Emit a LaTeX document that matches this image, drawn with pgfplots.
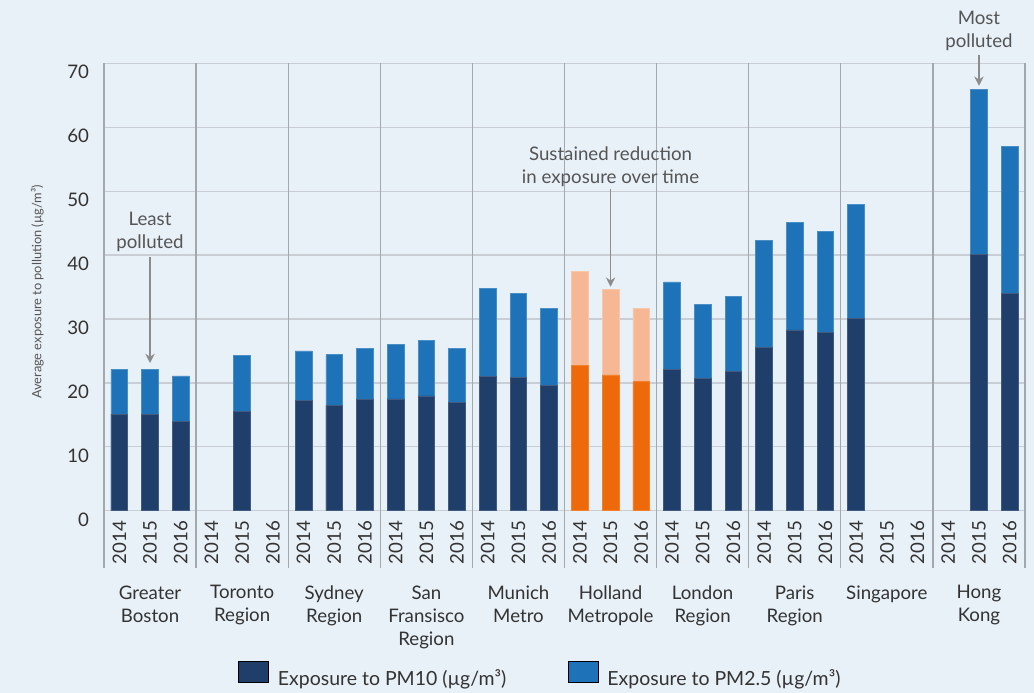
\documentclass[border=0pt]{standalone}
\usepackage{pgfplots}
\pgfplotsset{compat=1.18}
\usepackage{pgfplotstable}
\usepackage{fontspec}
\setmainfont{Lato}
\usetikzlibrary{arrows.meta}
\definecolor{bg}{HTML}{E8F0F8}
\definecolor{navy}{HTML}{1F3F6A}
\definecolor{mid}{HTML}{1D72B8}
\definecolor{org}{HTML}{EE690A}
\definecolor{lorg}{HTML}{F6B894}
\definecolor{gridc}{HTML}{C8CED4}
\definecolor{sepc}{HTML}{A3A8AD}
\definecolor{txt}{HTML}{333333}
\definecolor{ann}{HTML}{555555}
\definecolor{arr}{HTML}{8C8C8C}

\pgfplotstableread{
x pm10 pm25
0 15.1 7.0
1 15.1 7.0
2 14.0 7.1
4 15.6 8.7
6 17.2 7.8
7 16.5 7.9
8 17.4 7.95
9 17.5 8.5
10 17.95 8.65
11 17.0 8.35
12 21.0 13.85
13 20.9 13.1
14 19.6 12.0
18 22.1 13.7
19 20.7 11.55
20 21.85 11.65
21 25.6 16.65
22 28.3 16.8
23 27.95 15.8
24 30.05 17.95
28 40.1 25.9
29 34.0 23.0
}\maindata

\pgfplotstableread{
x pm10 pm25
15 22.8 14.65
16 21.25 13.4
17 20.2 11.5
}\hollanddata

\newcommand{\fs}{\fontsize{14}{17.25}\selectfont}

\begin{document}
\begin{tikzpicture}
\fill[bg] (-78pt,-136.7pt) rectangle (697.5pt,383pt);
\begin{axis}[
  at={(0,0)}, anchor=south west,
  width=690.75pt, height=335.4pt, scale only axis,
  xmin=-0.5, xmax=29.5, ymin=0, ymax=70,
  ytick={0,10,...,70},
  xtick={0,...,29},
  xticklabels={2014,2015,2016,2014,2015,2016,2014,2015,2016,2014,2015,2016,2014,2015,2016,2014,2015,2016,2014,2015,2016,2014,2015,2016,2014,2015,2016,2014,2015,2016},
  axis line style={draw=none},
  major tick length=0pt,
  ymajorgrids, grid style={gridc, line width=1pt},
  clip=false,
  /pgf/number format/assume math mode=true,
  tick label style={font=\fs, text=txt},
  xticklabel style={rotate=90, anchor=east, inner sep=7.5pt},
  yticklabel style={anchor=east, inner sep=0pt, xshift=-11pt, yshift=-6.6pt},
  ylabel={Average exposure to pollution (µg/m³)},
  ylabel style={at={(axis description cs:-0.0724,0.489)}, anchor=center, font=\fontsize{9.6}{11}\selectfont, text=ann},
  legend style={at={(0.474,-0.3697)}, anchor=center, draw=none, fill=none, font=\fontsize{14.6}{17.25}\selectfont, text=txt,
    /tikz/every odd column/.append style={column sep=5pt},
    /tikz/every even column/.append style={column sep=44pt}},
  legend columns=2,
  legend image code/.code={\fill[#1] (0pt,-2.9pt) rectangle (22.5pt,12.85pt);},
]
\addlegendimage{fill=navy}
\addlegendentry{Exposure to PM10 (µg/m³)}
\addlegendimage{fill=mid}
\addlegendentry{Exposure to PM2.5 (µg/m³)}

\addplot[forget plot, ybar, bar width=0.544, bar shift=0pt, fill=mid, draw=mid!80!white, line width=0.5pt]
  table[x=x, y expr=\thisrow{pm10}+\thisrow{pm25}] {\maindata};
\addplot[forget plot, ybar, bar width=0.544, bar shift=0pt, fill=navy, draw=navy!85!white, line width=0.5pt]
  table[x=x, y=pm10] {\maindata};
\addplot[forget plot, ybar, bar width=0.544, bar shift=0pt, fill=lorg, draw=lorg!80!white, line width=0.5pt]
  table[x=x, y expr=\thisrow{pm10}+\thisrow{pm25}] {\hollanddata};
\addplot[forget plot, ybar, bar width=0.544, bar shift=0pt, fill=org, draw=org!85!white, line width=0.5pt]
  table[x=x, y=pm10] {\hollanddata};

\pgfplotsinvokeforeach{-0.5,2.5,...,29.5}{
  \draw[sepc, line width=1pt] (axis cs:#1,70) -- ([yshift=-43pt]axis cs:#1,0);
}

\node[anchor=north, align=center, inner sep=0pt, font=\fs, text=txt] at ([yshift=-56pt]axis cs:1,0) {Greater\\Boston};
\node[anchor=north, align=center, inner sep=0pt, font=\fs, text=txt] at ([yshift=-56pt]axis cs:4,0) {Toronto\\Region};
\node[anchor=north, align=center, inner sep=0pt, font=\fs, text=txt] at ([yshift=-56pt]axis cs:7,0) {Sydney\\Region};
\node[anchor=north, align=center, inner sep=0pt, font=\fs, text=txt] at ([yshift=-56pt]axis cs:10,0) {San\\Fransisco\\Region};
\node[anchor=north, align=center, inner sep=0pt, font=\fs, text=txt] at ([yshift=-56pt]axis cs:13,0) {Munich\\Metro};
\node[anchor=north, align=center, inner sep=0pt, font=\fs, text=txt] at ([yshift=-56pt]axis cs:16,0) {Holland\\Metropole};
\node[anchor=north, align=center, inner sep=0pt, font=\fs, text=txt] at ([yshift=-56pt]axis cs:19,0) {London\\Region};
\node[anchor=north, align=center, inner sep=0pt, font=\fs, text=txt] at ([yshift=-56pt]axis cs:22,0) {Paris\\Region};
\node[anchor=north, align=center, inner sep=0pt, font=\fs, text=txt] at ([yshift=-56pt]axis cs:25,0) {Singapore};
\node[anchor=north, align=center, inner sep=0pt, font=\fs, text=txt] at ([yshift=-56pt]axis cs:28,0) {Hong\\Kong};

\node[align=center, inner sep=0pt, font=\fs, text=ann] at (axis cs:1,43.6) {Least\\polluted};
\draw[arr, line width=1pt, -{Stealth[length=7pt, width=7pt]}] (axis cs:1,39.7) -- (axis cs:1,23.1);
\node[align=center, inner sep=0pt, font=\fs, text=ann] at (axis cs:16,53.9) {Sustained reduction\\in exposure over time};
\draw[arr, line width=1pt, -{Stealth[length=7pt, width=7pt]}] (axis cs:16,50.3) -- (axis cs:16,35.05);
\node[align=center, inner sep=0pt, font=\fs, text=ann] at (axis cs:28,75.1) {Most\\polluted};
\draw[arr, line width=1pt, -{Stealth[length=7pt, width=7pt]}] (axis cs:28,71.4) -- (axis cs:28,66.5);
\end{axis}
\pgfresetboundingbox
\path[use as bounding box] (-78pt,-136.7pt) rectangle (697.5pt,383pt);
\end{tikzpicture}
\end{document}
